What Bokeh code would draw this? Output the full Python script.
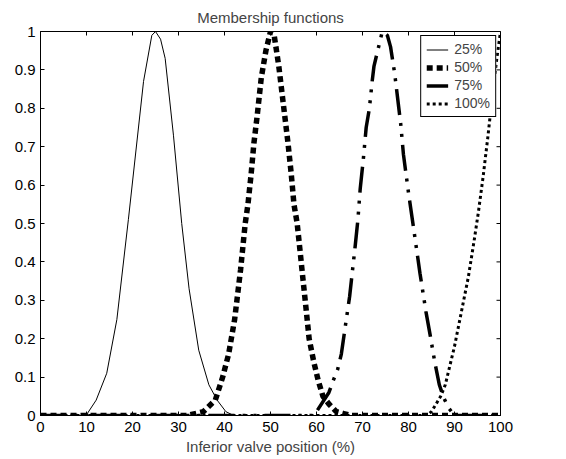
import math
from bokeh.plotting import figure
from bokeh.models import Range1d, FixedTicker, CustomJSTickFormatter, Legend, LegendItem
from bokeh.embed import file_html
from bokeh.resources import INLINE

# ---- data ----
x25 = [0, 9.9, 12.1, 14.4, 16.6, 19.1, 22.4, 24.2, 25.0, 26.1, 27.1, 28.9, 30.7, 32.3, 34.4, 36.6, 38.4, 40.3, 42.0, 100]
y25 = [0, 0, 0.04, 0.11, 0.25, 0.51, 0.87, 0.99, 1.0, 0.98, 0.93, 0.73, 0.50, 0.33, 0.17, 0.08, 0.04, 0.01, 0, 0]

x50 = [0, 31.8, 35.4, 38.0, 39.6, 40.9, 42.2, 43.5, 44.5, 45.1, 45.8, 46.4, 47.1, 48.0, 49.0, 50.0, 50.8, 51.8,
       52.8, 53.8, 54.5, 55.1, 55.8, 56.5, 57.1, 57.8, 58.4, 59.4, 60.4, 61.4, 62.7, 64.3, 65.9, 67.5, 100]
y50 = [0, 0, 0.01, 0.04, 0.10, 0.16, 0.25, 0.38, 0.50, 0.55, 0.63, 0.71, 0.78, 0.88, 0.95, 1.0, 0.99, 0.91,
       0.81, 0.71, 0.63, 0.55, 0.50, 0.42, 0.35, 0.27, 0.20, 0.14, 0.09, 0.05, 0.03, 0.01, 0.005, 0, 0]

x75 = [0, 59.5, 60.0, 62.7, 63.6, 64.6, 65.4, 67.2, 68.4, 69.0, 69.5, 70.2, 70.8, 71.5, 72.1, 72.5, 73.1, 74.3,
       75.4, 76.1, 77.0, 77.6, 78.3, 78.9, 80.0, 81.2, 82.5, 83.8, 84.7, 85.7, 86.7, 87.7, 88.7, 90.0, 100]
y75 = [0, 0, 0.01, 0.06, 0.09, 0.12, 0.16, 0.31, 0.44, 0.51, 0.59, 0.67, 0.75, 0.80, 0.87, 0.91, 0.94, 1.0,
       0.99, 0.96, 0.89, 0.83, 0.76, 0.68, 0.58, 0.48, 0.37, 0.27, 0.21, 0.14, 0.08, 0.045, 0.02, 0, 0]

x100 = [0, 84.0, 85.0, 86.0, 87.0, 88.0, 89.0, 90.0, 91.0, 92.0, 93.0, 94.2, 95.2, 96.2, 97.2, 98.3, 99.2, 100]
y100 = [0, 0, 0.01, 0.03, 0.05, 0.08, 0.13, 0.18, 0.24, 0.30, 0.36, 0.45, 0.53, 0.62, 0.72, 0.84, 0.93, 1.0]

labels = ["25%", "50%", "75%", "100%"]
x_ticks = [0, 10, 20, 30, 40, 50, 60, 70, 80, 90, 100]
y_ticks = [0, 0.1, 0.2, 0.3, 0.4, 0.5, 0.6, 0.7, 0.8, 0.9, 1]

FONT = "Liberation Sans"
TICK_FS = "15px"
LABEL_FS = "15px"

p = figure(width=566, height=459, x_range=Range1d(0, 100), y_range=Range1d(0, 1),
           output_backend="svg", toolbar_location=None, title="Membership functions",
           min_border_left=40, min_border_right=66, min_border_top=31, min_border_bottom=44)
p.title.align = "center"
p.title.text_font = FONT
p.title.text_font_size = LABEL_FS
p.title.text_font_style = "normal"
p.title.standoff = 11
p.xgrid.visible = False
p.ygrid.visible = False
p.outline_line_color = "black"
p.outline_line_alpha = 1
p.background_fill_color = "white"
p.border_fill_color = "white"

fmt = CustomJSTickFormatter(code="var s = tick.toFixed(1); return s.replace(/\\.0$/, '');")

for ax in (p.xaxis[0], p.yaxis[0]):
    ax.major_tick_in = 4
    ax.major_tick_out = 0
    ax.minor_tick_in = 0
    ax.minor_tick_out = 0
    ax.axis_line_color = "black"
    ax.major_tick_line_color = "black"
    ax.major_label_text_font = FONT
    ax.major_label_text_font_size = TICK_FS
    ax.major_label_text_color = "black"
    ax.axis_label_text_font = FONT
    ax.axis_label_text_font_size = LABEL_FS
    ax.axis_label_text_font_style = "normal"
    ax.major_label_standoff = 5
p.xaxis[0].major_label_standoff = 6
p.xaxis[0].ticker = FixedTicker(ticks=x_ticks)
p.yaxis[0].ticker = FixedTicker(ticks=y_ticks)
p.yaxis[0].formatter = fmt
p.xaxis[0].axis_label = "Inferior valve position (%)"
p.xaxis[0].axis_label_standoff = 3

# inward tick marks on the top and right frame edges (half of each dash is clipped by the frame)
p.scatter(x=x_ticks, y=[y_ticks[-1]] * len(x_ticks), marker="dash", size=8, angle=math.pi / 2,
          line_color="black", line_width=1)
p.scatter(x=[x_ticks[-1]] * len(y_ticks), y=y_ticks, marker="dash", size=8,
          line_color="black", line_width=1)

r25 = p.line(x25, y25, line_color="black", line_width=1)
r50 = p.line(x50, y50, line_color="black", line_width=5.5, line_dash="6 4")
r75 = p.line(x75, y75, line_color="black", line_width=3.5, line_dash="26 8 3 8 3 8")
r100 = p.line(x100, y100, line_color="black", line_width=3, line_dash="3 3")

legend = Legend(items=[LegendItem(label=labels[0], renderers=[r25]),
                       LegendItem(label=labels[1], renderers=[r50]),
                       LegendItem(label=labels[2], renderers=[r75]),
                       LegendItem(label=labels[3], renderers=[r100])],
                location="top_right", margin=4, padding=5, spacing=2,
                glyph_width=22, glyph_height=15, label_height=15, label_standoff=6,
                label_text_font=FONT, label_text_font_size="14px",
                border_line_color="black", border_line_width=1, border_line_alpha=1,
                background_fill_alpha=1)
p.add_layout(legend, "center")

open("out.html", "w").write(file_html(p, INLINE))
